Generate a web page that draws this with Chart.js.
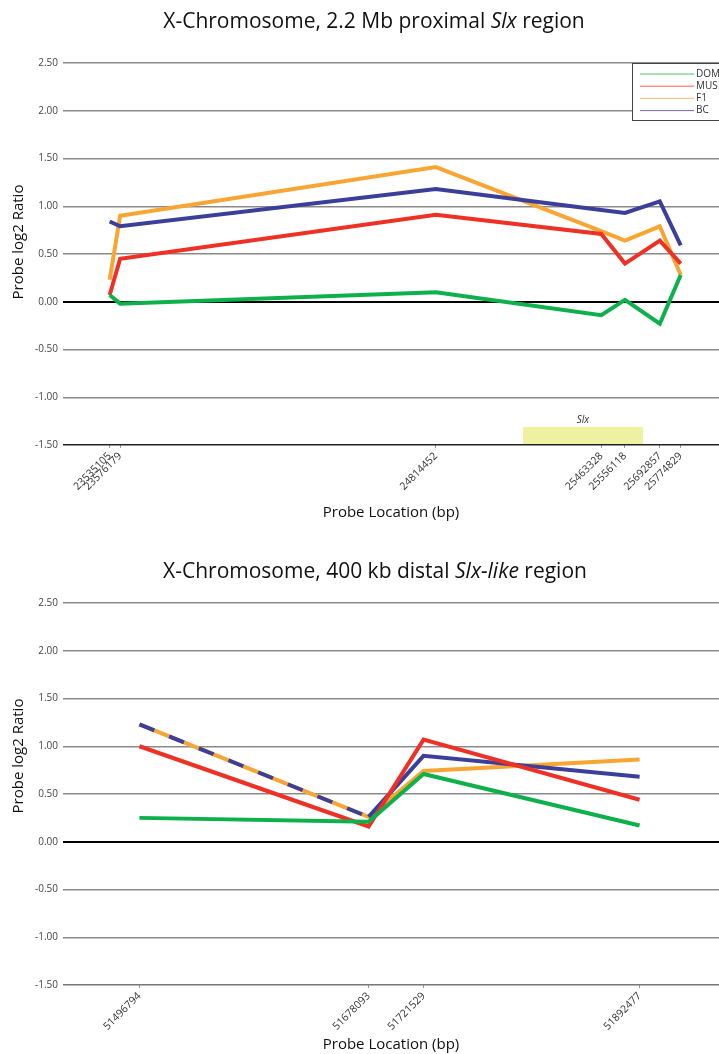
<!DOCTYPE html>
<html>
<head>
<meta charset="utf-8">
<script src="https://cdn.jsdelivr.net/npm/chart.js@4.4.1/dist/chart.umd.min.js"></script>
<style>
  html, body { margin: 0; padding: 0; background: #fff; width: 719px; height: 1054px; overflow: hidden; }
  .panel { position: absolute; left: 0; width: 719px; height: 527px; }
</style>
</head>
<body>
<div class="panel" style="top:0"><canvas id="proximal" width="719" height="527"></canvas></div>
<div class="panel" style="top:527px"><canvas id="distal" width="719" height="527"></canvas></div>
<script>
// ---- Probe positions (bp) and log2 ratios ----
const proximalProbes = [23535105, 23576179, 24814452, 25463328, 25556118, 25692857, 25774829];
const proximalDOM = [0.07, -0.02, 0.10, -0.14, 0.02, -0.23, 0.28];
const proximalMUS = [0.07, 0.45, 0.91, 0.71, 0.40, 0.64, 0.40];
const proximalF1  = [0.23, 0.90, 1.41, 0.74, 0.64, 0.79, 0.28];
const proximalBC  = [0.84, 0.79, 1.18, 0.96, 0.93, 1.05, 0.59];

const distalProbes = [51496794, 51678093, 51721529, 51892477];
const distalDOM = [0.25, 0.21, 0.71, 0.17];
const distalMUS = [1.00, 0.16, 1.07, 0.44];
const distalF1  = [1.23, 0.26, 0.74, 0.86];
const distalBC  = [1.23, 0.26, 0.90, 0.68];

// Slx gene span on the proximal plot (bp) and the band's value range
const slxSpan = [25156000, 25627000];
const slxBand = [-1.5, -1.31];

const seriesNames = ['DOM', 'MUS', 'F1', 'BC'];
const seriesColors = ['#0DB04B', '#EE3124', '#F9A533', '#3C3F99'];
const yTickValues = [-1.5, -1.0, -0.5, 0.0, 0.5, 1.0, 1.5, 2.0, 2.5];

const FONT = '"Open Sans", "Noto Sans", sans-serif';

function points(xs, ys) { return xs.map((x, i) => ({ x: x, y: ys[i] })); }

function makeDatasets(xs, seriesList, dashFirstBC) {
  // drawing order: DOM on top, BC above F1
  const orders = [0, 1, 3, 2];
  return seriesList.map((ys, i) => {
    const ds = {
      label: seriesNames[i],
      data: points(xs, ys),
      borderColor: seriesColors[i],
      backgroundColor: seriesColors[i],
      borderWidth: 4,
      borderJoinStyle: 'miter',
      borderCapStyle: 'butt',
      pointRadius: 0,
      tension: 0,
      fill: false,
      order: orders[i]
    };
    if (dashFirstBC && seriesNames[i] === 'BC') {
      ds.segment = { borderDash: c => c.p0DataIndex === 0 ? [16, 16] : undefined };
    }
    return ds;
  });
}

// Headings with italic gene names, y-axis caption, legend box and Slx band
const captions = {
  id: 'captions',
  beforeDraw(chart, args, opts) {
    const band = opts.band;
    if (!band) return;
    const { ctx, scales: { x, y } } = chart;
    const x0 = x.getPixelForValue(band.span[0]);
    const x1 = x.getPixelForValue(band.span[1]);
    const yb = y.getPixelForValue(band.range[0]);
    const yt = y.getPixelForValue(band.range[1]);
    ctx.save();
    ctx.fillStyle = '#EEF1A2';
    ctx.fillRect(x0, yt, x1 - x0, yb - yt);
    ctx.font = 'italic 10px ' + FONT;
    ctx.fillStyle = '#333';
    ctx.textAlign = 'center';
    ctx.textBaseline = 'alphabetic';
    ctx.fillText(band.label, (x0 + x1) / 2, yt - 4);
    ctx.restore();
  },
  afterDraw(chart, args, opts) {
    const ctx = chart.ctx;
    ctx.save();
    // heading
    const size = opts.headingSize;
    let total = 0;
    const runs = opts.heading.map(r => {
      ctx.font = (r.italic ? 'italic ' : '') + size + 'px ' + FONT;
      return { text: r.text, italic: r.italic, w: ctx.measureText(r.text).width };
    });
    runs.forEach(r => total += r.w);
    let hx = opts.headingX - total / 2;
    ctx.fillStyle = '#111';
    ctx.textAlign = 'left';
    ctx.textBaseline = 'alphabetic';
    runs.forEach(r => {
      ctx.font = (r.italic ? 'italic ' : '') + size + 'px ' + FONT;
      ctx.fillText(r.text, hx, opts.headingY);
      hx += r.w;
    });
    // y-axis caption
    ctx.translate(opts.yTitleX, opts.yTitleY);
    ctx.rotate(-Math.PI / 2);
    ctx.font = '15px ' + FONT;
    ctx.textAlign = 'center';
    ctx.textBaseline = 'middle';
    ctx.fillStyle = '#111';
    ctx.fillText('Probe log2 Ratio', 0, 0);
    ctx.setTransform(1, 0, 0, 1, 0, 0);
    // legend
    if (opts.legend) {
      const L = opts.legend;
      ctx.fillStyle = '#fff';
      ctx.fillRect(L.x, L.y, L.w, L.h);
      ctx.strokeStyle = '#444';
      ctx.lineWidth = 1;
      ctx.strokeRect(L.x + 0.5, L.y + 0.5, L.w, L.h);
      ctx.font = '10px ' + FONT;
      ctx.textAlign = 'left';
      ctx.textBaseline = 'middle';
      chart.data.datasets.forEach((ds, i) => {
        const ly = L.y + 11 + i * 12.2;
        ctx.strokeStyle = ds.borderColor;
        ctx.globalAlpha = 0.75;
        ctx.beginPath();
        ctx.moveTo(L.x + 8, ly);
        ctx.lineTo(L.x + 62, ly);
        ctx.stroke();
        ctx.globalAlpha = 1;
        ctx.fillStyle = '#333';
        ctx.fillText(ds.label, L.x + 64, ly);
      });
    }
    ctx.restore();
  }
};

function makeChart(id, xs, seriesList, cfg) {
  const yAxisColor = cfg.axisColor;
  return new Chart(document.getElementById(id), {
    type: 'line',
    data: { datasets: makeDatasets(xs, seriesList, cfg.dashFirstBC) },
    plugins: [captions],
    options: {
      responsive: false,
      animation: false,
      devicePixelRatio: 1,
      layout: { padding: { top: cfg.top, left: 0, right: 0, bottom: cfg.bottomPad } },
      plugins: {
        legend: { display: false },
        title: { display: false },
        tooltip: { enabled: false },
        captions: cfg.captions
      },
      scales: {
        x: {
          type: 'linear',
          min: cfg.xRange[0],
          max: cfg.xRange[1],
          afterBuildTicks: s => { s.ticks = xs.map(v => ({ value: v })); },
          afterFit: s => { s.height = cfg.xHeight; s.paddingLeft = 0; s.paddingRight = 0; },
          ticks: {
            autoSkip: false,
            minRotation: 45,
            maxRotation: 45,
            padding: 2,
            color: '#333',
            font: { family: FONT, size: 10.5 },
            callback: v => String(v)
          },
          grid: { drawOnChartArea: false, drawTicks: true, tickLength: 3, color: '#999', lineWidth: 1 },
          border: { display: false },
          title: {
            display: true,
            text: 'Probe Location (bp)',
            color: '#111',
            padding: 0,
            font: { family: FONT, size: 15 }
          }
        },
        y: {
          min: -1.5,
          max: 2.5,
          afterBuildTicks: s => { s.ticks = yTickValues.map(v => ({ value: v })); },
          afterFit: s => { s.width = 63; s.paddingTop = 0; s.paddingBottom = 0; },
          ticks: {
            padding: 5,
            color: '#444',
            font: { family: FONT, size: 10 },
            callback: v => v.toFixed(2)
          },
          grid: {
            drawTicks: false,
            color: c => c.tick.value === 0 ? '#000' : (c.tick.value === -1.5 ? yAxisColor : '#8a8a8a'),
            lineWidth: c => c.tick.value === 0 ? 2 : 1.5
          },
          border: { display: false }
        }
      }
    }
  });
}

makeChart('proximal', proximalProbes, [proximalDOM, proximalMUS, proximalF1, proximalBC], {
  top: 63, bottomPad: 5, xHeight: 77,
  xRange: [23352000, 25925000],
  axisColor: '#222',
  dashFirstBC: false,
  captions: {
    heading: [{ text: 'X-Chromosome, 2.2 Mb proximal ' }, { text: 'Slx', italic: true }, { text: ' region' }],
    headingSize: 21, headingX: 374, headingY: 28,
    yTitleX: 19, yTitleY: 242,
    legend: { x: 632, y: 63, w: 100, h: 57 },
    band: { span: slxSpan, range: slxBand, label: 'Slx' }
  }
});

makeChart('distal', distalProbes, [distalDOM, distalMUS, distalF1, distalBC], {
  top: 76, bottomPad: 0, xHeight: 69,
  xRange: [51436300, 51955300],
  axisColor: '#777',
  dashFirstBC: true,
  captions: {
    heading: [{ text: 'X-Chromosome, 400 kb distal ' }, { text: 'Slx-like', italic: true }, { text: ' region' }],
    headingSize: 21, headingX: 375, headingY: 51,
    yTitleX: 19, yTitleY: 229
  }
});
</script>
</body>
</html>
